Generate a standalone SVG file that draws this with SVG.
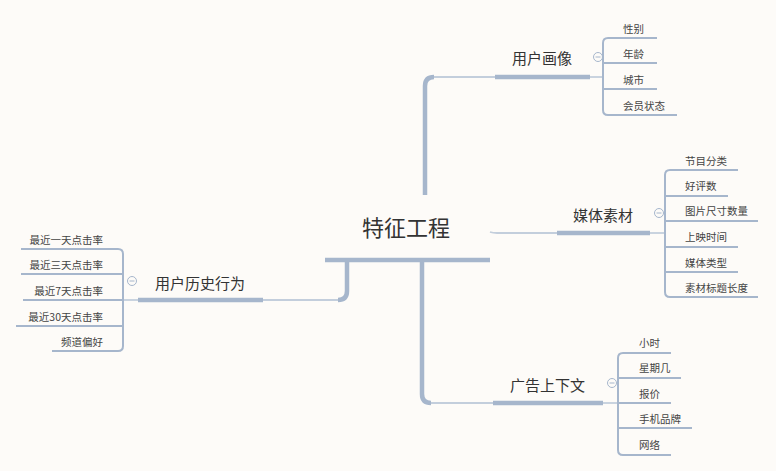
<svg xmlns="http://www.w3.org/2000/svg" width="776" height="471" viewBox="0 0 776 471">
<style>
.bg{fill:#fdfbf8}
.thick{fill:none;stroke:#a6b6cc;stroke-width:4.5;stroke-linecap:butt}
.thin{fill:none;stroke:#c3cedc;stroke-width:1.8}
.sub{fill:none;stroke:#a6b6cc;stroke-width:2}
.main{font-family:"Noto Sans CJK SC","Noto Sans",sans-serif;font-size:15px;fill:#333}
.center{font-family:"Noto Sans CJK SC","Noto Sans",sans-serif;font-size:22px;fill:#333}
.item{font-family:"Noto Sans CJK SC","Noto Sans",sans-serif;font-size:10.5px;fill:#444}
.tog{fill:#fdfbf8;stroke:#a6b6cc;stroke-width:1}
.togm{stroke:#a6b6cc;stroke-width:1}
</style>
<rect class="bg" x="0" y="0" width="776" height="471"/>
<g id="connectors">
  <path class="thick" d="M325,260 H490"/>
  <path class="thick" d="M425,195 V86 Q425,77 434,77"/>
  <path class="thin" d="M434,77 H495"/>
  <path class="thick" d="M495,77 H590"/>
  <path class="thin" d="M590,77 H603"/>
  <path class="thin" d="M490,232 Q493,233 497,233 H557"/>
  <path class="thick" d="M557,233 H650"/>
  <path class="thin" d="M650,233 H665"/>
  <path class="thick" d="M422,260 V394 Q422,403 431,403"/>
  <path class="thin" d="M431,403 H493"/>
  <path class="thick" d="M493,403 H603"/>
  <path class="thin" d="M603,403 H618"/>
  <path class="thick" d="M347,260 V291 Q347,300 338,300"/>
  <path class="thin" d="M338,300 H263"/>
  <path class="thick" d="M263,300 H138"/>
  <path class="thin" d="M138,300 H123"/>
</g>
<g id="center">
  <text class="center" x="362" y="236">特征工程</text>
</g>
<g id="user-profile">
  <text class="main" x="512" y="63.5">用户画像</text>
  <circle class="tog" cx="598" cy="57" r="4.5"/><path class="togm" d="M595.5,57 H600.5"/>
  <path class="sub" d="M608,38 Q603,38 603,43 V110 Q603,115 608,115"/>
  <path class="sub" d="M608,38 H657 M603,63 H657 M603,89 H657 M608,115 H677"/>
  <text class="item" x="623" y="33">性别</text>
  <text class="item" x="623" y="58">年龄</text>
  <text class="item" x="623" y="84">城市</text>
  <text class="item" x="623" y="110">会员状态</text>
</g>
<g id="media">
  <text class="main" x="573" y="220.5">媒体素材</text>
  <circle class="tog" cx="659" cy="213" r="4.5"/><path class="togm" d="M656.5,213 H661.5"/>
  <path class="sub" d="M670,170 Q665,170 665,175 V292 Q665,297 670,297"/>
  <path class="sub" d="M670,170 H738 M665,196 H728 M665,221 H758 M665,247 H738 M665,272 H738 M670,297 H758"/>
  <text class="item" x="685" y="165">节目分类</text>
  <text class="item" x="685" y="190">好评数</text>
  <text class="item" x="685" y="215">图片尺寸数量</text>
  <text class="item" x="685" y="241">上映时间</text>
  <text class="item" x="685" y="267">媒体类型</text>
  <text class="item" x="685" y="292">素材标题长度</text>
</g>
<g id="ad-context">
  <text class="main" x="510" y="390.5">广告上下文</text>
  <circle class="tog" cx="612" cy="383" r="4.5"/><path class="togm" d="M609.5,383 H614.5"/>
  <path class="sub" d="M623,353 Q618,353 618,358 V450 Q618,455 623,455"/>
  <path class="sub" d="M623,353 H671 M618,378 H681 M618,403 H671 M618,428 H692 M623,455 H671"/>
  <text class="item" x="639" y="347">小时</text>
  <text class="item" x="639" y="372">星期几</text>
  <text class="item" x="639" y="398">报价</text>
  <text class="item" x="639" y="423">手机品牌</text>
  <text class="item" x="639" y="449">网络</text>
</g>
<g id="user-history">
  <text class="main" x="155" y="288.5">用户历史行为</text>
  <circle class="tog" cx="132" cy="281" r="4.5"/><path class="togm" d="M129.5,281 H134.5"/>
  <path class="sub" d="M118,249 Q123,249 123,254 V346 Q123,351 118,351"/>
  <path class="sub" d="M118,249 H21 M123,274 H21 M123,300 H23 M123,326 H16 M118,351 H52"/>
  <text class="item" x="103" y="244" text-anchor="end">最近一天点击率</text>
  <text class="item" x="103" y="269" text-anchor="end">最近三天点击率</text>
  <text class="item" x="103" y="295" text-anchor="end">最近7天点击率</text>
  <text class="item" x="103" y="321" text-anchor="end">最近30天点击率</text>
  <text class="item" x="103" y="346" text-anchor="end">频道偏好</text>
</g>
</svg>
